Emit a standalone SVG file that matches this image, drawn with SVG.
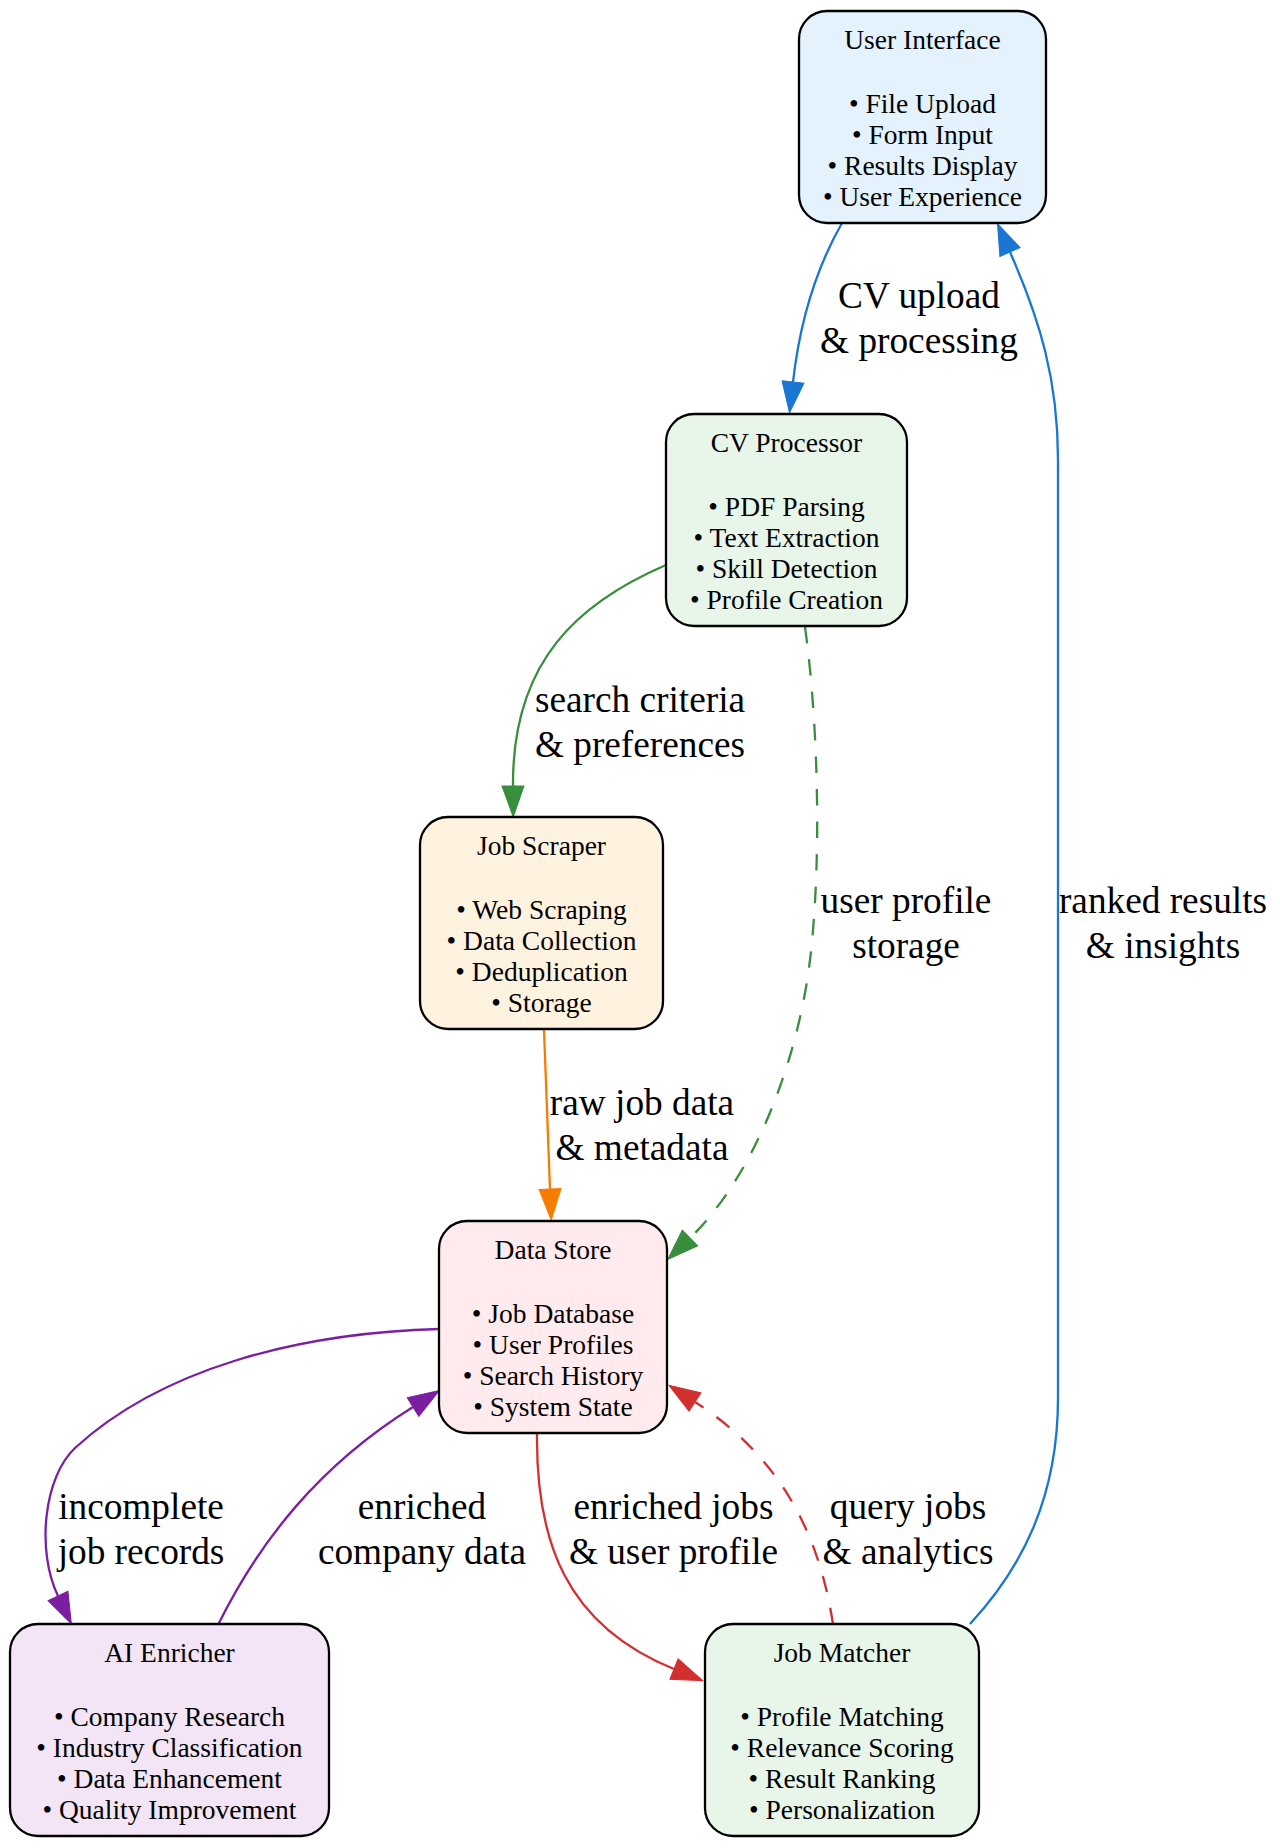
<svg xmlns="http://www.w3.org/2000/svg" width="1280" height="1848" viewBox="0 0 1280 1848">
<style>
  .node rect { stroke: #000; stroke-width: 2.3; }
  .nt { font-family: "Liberation Serif", "Times New Roman", serif; font-size: 27.5px; text-anchor: middle; fill: #000; }
  .el { font-family: "Liberation Serif", "Times New Roman", serif; font-size: 37.3px; text-anchor: middle; fill: #000; }
  .e { fill: none; stroke-width: 2.3; }
  .dash { stroke-dasharray: 16.5 16; }
</style>
<defs>
  <marker id="ab" viewBox="0 0 31 22" refX="0" refY="11" markerWidth="31" markerHeight="22" markerUnits="userSpaceOnUse" orient="auto" overflow="visible"><path d="M0,0 L31,11 L0,22 z" fill="#1976D2" stroke="#1976D2" stroke-width="1"/></marker>
  <marker id="ag" viewBox="0 0 31 22" refX="0" refY="11" markerWidth="31" markerHeight="22" markerUnits="userSpaceOnUse" orient="auto" overflow="visible"><path d="M0,0 L31,11 L0,22 z" fill="#388E3C" stroke="#388E3C" stroke-width="1"/></marker>
  <marker id="ao" viewBox="0 0 31 22" refX="0" refY="11" markerWidth="31" markerHeight="22" markerUnits="userSpaceOnUse" orient="auto" overflow="visible"><path d="M0,0 L31,11 L0,22 z" fill="#F57C00" stroke="#F57C00" stroke-width="1"/></marker>
  <marker id="ap" viewBox="0 0 31 22" refX="0" refY="11" markerWidth="31" markerHeight="22" markerUnits="userSpaceOnUse" orient="auto" overflow="visible"><path d="M0,0 L31,11 L0,22 z" fill="#7B1FA2" stroke="#7B1FA2" stroke-width="1"/></marker>
  <marker id="ar" viewBox="0 0 31 22" refX="0" refY="11" markerWidth="31" markerHeight="22" markerUnits="userSpaceOnUse" orient="auto" overflow="visible"><path d="M0,0 L31,11 L0,22 z" fill="#D32F2F" stroke="#D32F2F" stroke-width="1"/></marker>
</defs>
<rect x="0" y="0" width="1280" height="1848" fill="#fff"/>

<g id="edges">
  <g id="e-ui-cv">
    <path class="e" stroke="#1976D2" d="M842,223 C818,265 800,320 793,382" marker-end="url(#ab)"/>
    <text class="el" x="919" y="308">CV upload</text>
    <text class="el" x="919" y="353">&amp; processing</text>
  </g>
  <g id="e-cv-js">
    <path class="e" stroke="#388E3C" d="M666,565 C580,602 512,660 513,786" marker-end="url(#ag)"/>
    <text class="el" x="640" y="712">search criteria</text>
    <text class="el" x="640" y="757">&amp; preferences</text>
  </g>
  <g id="e-cv-ds">
    <path class="e dash" stroke="#388E3C" d="M805,627 C818,720 822,860 810,960 C798,1060 755,1175 690,1238" marker-end="url(#ag)"/>
    <text class="el" x="906" y="913">user profile</text>
    <text class="el" x="906" y="958">storage</text>
  </g>
  <g id="e-js-ds">
    <path class="e" stroke="#F57C00" d="M544,1030 C546,1080 548,1140 550,1189" marker-end="url(#ao)"/>
    <text class="el" x="642" y="1115">raw job data</text>
    <text class="el" x="642" y="1160">&amp; metadata</text>
  </g>
  <g id="e-ds-ai">
    <path class="e" stroke="#7B1FA2" d="M439,1329 C295,1333 160,1370 75,1448 C44,1477 36,1550 58,1596" marker-end="url(#ap)"/>
    <text class="el" x="141" y="1519">incomplete</text>
    <text class="el" x="141" y="1564">job records</text>
  </g>
  <g id="e-ai-ds">
    <path class="e" stroke="#7B1FA2" d="M218,1625 C260,1540 320,1465 413,1407" marker-end="url(#ap)"/>
    <text class="el" x="422" y="1519">enriched</text>
    <text class="el" x="422" y="1564">company data</text>
  </g>
  <g id="e-ds-jm">
    <path class="e" stroke="#D32F2F" d="M537,1434 C536,1540 565,1625 674,1669" marker-end="url(#ar)"/>
    <text class="el" x="673.5" y="1519">enriched jobs</text>
    <text class="el" x="673.5" y="1564">&amp; user profile</text>
  </g>
  <g id="e-jm-ds">
    <path class="e dash" stroke="#D32F2F" d="M833,1624 C820,1540 785,1460 695,1402" marker-end="url(#ar)"/>
    <text class="el" x="908" y="1519">query jobs</text>
    <text class="el" x="908" y="1564">&amp; analytics</text>
  </g>
  <g id="e-jm-ui">
    <path class="e" stroke="#1976D2" d="M970,1624 C1020,1570 1058,1500 1058,1398 L1058,460 C1058,380 1040,320 1010,252" marker-end="url(#ab)"/>
    <text class="el" x="1163" y="913">ranked results</text>
    <text class="el" x="1163" y="958">&amp; insights</text>
  </g>
</g>

<g id="n-ui" class="node">
  <rect x="799" y="11" width="247" height="212" rx="28" ry="28" fill="#E3F2FD"/>
  <text class="nt" x="922.5" y="49">User Interface</text>
  <text class="nt" x="922.5" y="113">• File Upload</text>
  <text class="nt" x="922.5" y="144">• Form Input</text>
  <text class="nt" x="922.5" y="175">• Results Display</text>
  <text class="nt" x="922.5" y="206">• User Experience</text>
</g>
<g id="n-cv" class="node">
  <rect x="666" y="414" width="241" height="212" rx="28" ry="28" fill="#E8F5E9"/>
  <text class="nt" x="786.5" y="452">CV Processor</text>
  <text class="nt" x="786.5" y="516">• PDF Parsing</text>
  <text class="nt" x="786.5" y="547">• Text Extraction</text>
  <text class="nt" x="786.5" y="578">• Skill Detection</text>
  <text class="nt" x="786.5" y="609">• Profile Creation</text>
</g>
<g id="n-js" class="node">
  <rect x="420" y="817" width="243" height="212" rx="28" ry="28" fill="#FFF3E0"/>
  <text class="nt" x="541.5" y="855">Job Scraper</text>
  <text class="nt" x="541.5" y="919">• Web Scraping</text>
  <text class="nt" x="541.5" y="950">• Data Collection</text>
  <text class="nt" x="541.5" y="981">• Deduplication</text>
  <text class="nt" x="541.5" y="1012">• Storage</text>
</g>
<g id="n-ds" class="node">
  <rect x="439" y="1221" width="228" height="212" rx="28" ry="28" fill="#FFEBEE"/>
  <text class="nt" x="553" y="1259">Data Store</text>
  <text class="nt" x="553" y="1323">• Job Database</text>
  <text class="nt" x="553" y="1354">• User Profiles</text>
  <text class="nt" x="553" y="1385">• Search History</text>
  <text class="nt" x="553" y="1416">• System State</text>
</g>
<g id="n-ai" class="node">
  <rect x="10" y="1624" width="319" height="212" rx="28" ry="28" fill="#F3E5F5"/>
  <text class="nt" x="169.5" y="1662">AI Enricher</text>
  <text class="nt" x="169.5" y="1726">• Company Research</text>
  <text class="nt" x="169.5" y="1757">• Industry Classification</text>
  <text class="nt" x="169.5" y="1788">• Data Enhancement</text>
  <text class="nt" x="169.5" y="1819">• Quality Improvement</text>
</g>
<g id="n-jm" class="node">
  <rect x="705" y="1624" width="274" height="212" rx="28" ry="28" fill="#E8F5E9"/>
  <text class="nt" x="842" y="1662">Job Matcher</text>
  <text class="nt" x="842" y="1726">• Profile Matching</text>
  <text class="nt" x="842" y="1757">• Relevance Scoring</text>
  <text class="nt" x="842" y="1788">• Result Ranking</text>
  <text class="nt" x="842" y="1819">• Personalization</text>
</g>
</svg>
